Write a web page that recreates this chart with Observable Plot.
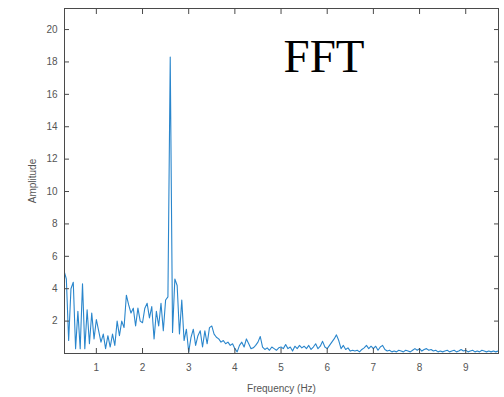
<!DOCTYPE html>
<html>
<head>
<meta charset="utf-8">
<script src="https://cdn.jsdelivr.net/npm/d3@7"></script>
<script src="https://cdn.jsdelivr.net/npm/@observablehq/plot@0.6"></script>
<style>
  html, body { margin: 0; padding: 0; background: #fff; }
  svg { display: block; }
</style>
</head>
<body>
<div id="chart"></div>
<script>
// Frequency grid: start and step (Hz)
const freqStart = 0.30;
const freqStep = 0.05;

// Amplitude values, one per frequency bin
const amplitudes = [
  5.1, 4.6, 0.8, 4.0, 4.4, 0.3, 2.6, 0.3, 4.3, 0.3,
  2.7, 0.6, 2.5, 0.9, 2.1, 1.4, 0.7, 1.2, 0.3, 1.1,
  0.4, 1.2, 0.5, 2.0, 1.1, 2.0, 1.6, 3.6, 3.0, 2.5,
  2.8, 1.7, 2.8, 2.0, 1.9, 2.8, 3.1, 2.2, 2.9, 0.9,
  2.6, 1.7, 3.1, 1.4, 3.3, 3.5, 18.3, 1.3, 4.6, 4.2,
  1.2, 3.3, 0.8, 1.5, 0.1, 1.0, 1.5, 0.5, 1.1, 1.4,
  0.4, 1.4, 0.6, 1.6, 1.7, 1.2, 1.0, 0.9, 0.7, 0.8,
  0.6, 0.7, 0.5, 0.6, 0.3, 0.1, 0.5, 0.7, 0.4, 0.9,
  0.6, 0.3, 0.35, 0.5, 0.7, 1.05, 0.4, 0.25, 0.35, 0.2,
  0.4, 0.3, 0.2, 0.35, 0.4, 0.3, 0.55, 0.3, 0.4, 0.15,
  0.45, 0.3, 0.5, 0.35, 0.45, 0.3, 0.5, 0.25, 0.4, 0.6,
  0.3, 0.45, 0.75, 0.4, 0.3, 0.5, 0.7, 0.9, 1.15, 0.8,
  0.3, 0.5, 0.25, 0.35, 0.15, 0.2, 0.15, 0.2, 0.1, 0.25,
  0.35, 0.5, 0.3, 0.45, 0.3, 0.45, 0.2, 0.4, 0.5, 0.25,
  0.15, 0.2, 0.1, 0.15, 0.1, 0.2, 0.15, 0.1, 0.2, 0.15,
  0.1, 0.2, 0.3, 0.2, 0.3, 0.15, 0.25, 0.3, 0.2, 0.25,
  0.15, 0.2, 0.1, 0.15, 0.1, 0.15, 0.2, 0.1, 0.15, 0.2,
  0.1, 0.15, 0.25, 0.15, 0.2, 0.1, 0.15, 0.2, 0.1, 0.15,
  0.1, 0.2, 0.15, 0.1, 0.15, 0.1, 0.15, 0.1, 0.15
];

const xTicks = [1, 2, 3, 4, 5, 6, 7, 8, 9];
const yTicks = [2, 4, 6, 8, 10, 12, 14, 16, 18, 20];
const xDomain = [0.31, 9.71];
const yDomain = [0, 21.3];
const titleText = "FFT";
const xLabel = "Frequency (Hz)";
const yLabel = "Amplitude";

const data = amplitudes.map((a, i) => ({ f: freqStart + i * freqStep, a }));

const axisColor = "#4a4a4a";
const labelColor = "#555";

const chart = Plot.plot({
  width: 504,
  height: 397,
  marginLeft: 64,
  marginRight: 6,
  marginTop: 8,
  marginBottom: 44,
  style: { fontFamily: "'Liberation Sans', Arial, sans-serif", fontSize: "10px", background: "#fff" },
  x: { domain: xDomain },
  y: { domain: yDomain },
  marks: [
    Plot.line(data, { x: "f", y: "a", stroke: "#2a86cc", strokeWidth: 1.1, clip: true }),
    Plot.frame({ stroke: axisColor, strokeWidth: 1 }),
    // inward tick marks (box style)
    Plot.axisX(xTicks, { anchor: "bottom", tickSize: 5, dy: -5, text: null, stroke: axisColor, label: null }),
    Plot.axisX(xTicks, { anchor: "top", tickSize: 5, dy: 5, text: null, stroke: axisColor, label: null }),
    Plot.axisY(yTicks, { anchor: "left", tickSize: 5, dx: 5, text: null, stroke: axisColor, label: null }),
    Plot.axisY(yTicks, { anchor: "right", tickSize: 5, dx: -5, text: null, stroke: axisColor, label: null }),
    // tick labels and axis titles
    Plot.axisX(xTicks, {
      anchor: "bottom", tickSize: 0, tickPadding: 10, fill: labelColor, fontSize: 10,
      label: xLabel, labelAnchor: "center", labelArrow: "none", labelOffset: 38
    }),
    Plot.axisY(yTicks, {
      anchor: "left", tickSize: 0, tickPadding: 7, fill: labelColor, fontSize: 10,
      label: yLabel, labelAnchor: "center", labelArrow: "none", labelOffset: 36
    }),
    Plot.text([titleText], {
      frameAnchor: "top-right", dx: -215, dy: 30,
      text: d => d, textAnchor: "start", lineAnchor: "top",
      fontFamily: "'Liberation Serif', 'Times New Roman', serif", fontSize: 47, fill: "#000"
    })
  ]
});

document.getElementById("chart").appendChild(chart);
</script>
</body>
</html>
